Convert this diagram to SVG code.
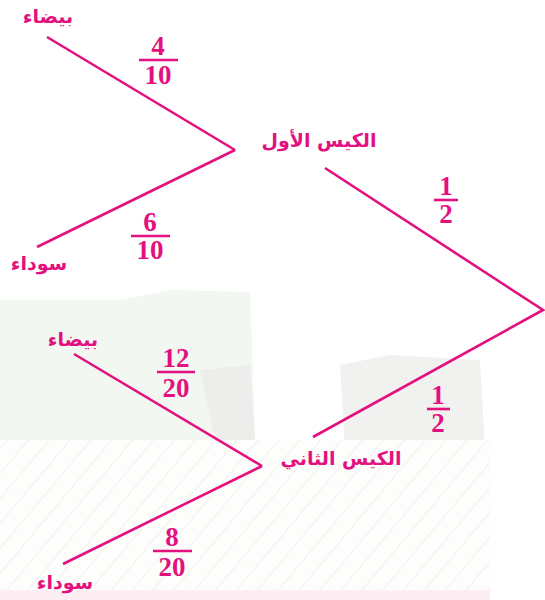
<svg xmlns="http://www.w3.org/2000/svg" width="545" height="600" viewBox="0 0 545 600">
<defs>
<pattern id="hatch" width="16" height="16" patternUnits="userSpaceOnUse" patternTransform="rotate(40)">
<rect width="16" height="16" fill="#fcfcfb"/>
<line x1="0" y1="0" x2="0" y2="16" stroke="#e8e8e5" stroke-width="2"/>
</pattern>
<style>
.br{stroke:#e3117f;stroke-width:2.6;fill:none;stroke-linecap:butt}
.bar{stroke:#e3117f;stroke-width:2.6}
.num{font-family:"Liberation Serif","Times New Roman",serif;font-size:27px;font-weight:bold;fill:#e3117f;text-anchor:middle}
.ar{font-family:"DejaVu Sans","Noto Sans",sans-serif;font-weight:bold;font-size:19px;fill:#e3117f;text-anchor:middle}
</style>
</defs>
<rect width="545" height="600" fill="#ffffff"/>
<g id="background" opacity="0.6">
<polygon points="0,300 120,300 170,290 250,292 255,440 0,440" fill="#eaf2ea"/>
<polygon points="200,370 250,365 255,440 215,440" fill="#e2e4e1"/>
<polygon points="340,365 390,355 480,360 485,450 345,450" fill="#e9e9e7"/>
<rect x="0" y="440" width="490" height="150" fill="url(#hatch)"/>
<rect x="0" y="590" width="490" height="10" fill="#fbe3ea"/>
</g>
<g id="connectors">
<line class="br" x1="47" y1="37" x2="235" y2="150"/>
<line class="br" x1="235" y1="150" x2="37" y2="247"/>
<polyline class="br" points="325,168 543,310 313,437"/>
<line class="br" x1="74" y1="354" x2="262" y2="466"/>
<line class="br" x1="262" y1="466" x2="63" y2="564"/>
</g>
<g id="node-bag1"><text class="ar" x="319" y="147">الكيس الأول</text></g>
<g id="node-bag2"><text class="ar" x="341" y="465">الكيس الثاني</text></g>
<g id="node-white1"><text class="ar" x="48" y="23">بيضاء</text></g>
<g id="node-black1"><text class="ar" x="39" y="270">سوداء</text></g>
<g id="node-white2"><text class="ar" x="73" y="346">بيضاء</text></g>
<g id="node-black2"><text class="ar" x="65" y="589">سوداء</text></g>
<g id="label-4-10">
<text class="num" x="158" y="55">4</text>
<line class="bar" x1="139" y1="60" x2="178" y2="60"/>
<text class="num" x="158" y="84">10</text>
</g>
<g id="label-6-10">
<text class="num" x="150" y="231">6</text>
<line class="bar" x1="131" y1="236" x2="170" y2="236"/>
<text class="num" x="150" y="259">10</text>
</g>
<g id="label-1-2a">
<text class="num" x="446" y="195">1</text>
<line class="bar" x1="434" y1="200" x2="458" y2="200"/>
<text class="num" x="446" y="223">2</text>
</g>
<g id="label-12-20">
<text class="num" x="176" y="367">12</text>
<line class="bar" x1="157" y1="372" x2="195" y2="372"/>
<text class="num" x="176" y="397">20</text>
</g>
<g id="label-1-2b">
<text class="num" x="438" y="404">1</text>
<line class="bar" x1="427" y1="409" x2="450" y2="409"/>
<text class="num" x="438" y="432">2</text>
</g>
<g id="label-8-20">
<text class="num" x="172" y="546">8</text>
<line class="bar" x1="153" y1="551" x2="192" y2="551"/>
<text class="num" x="172" y="576">20</text>
</g>
</svg>
